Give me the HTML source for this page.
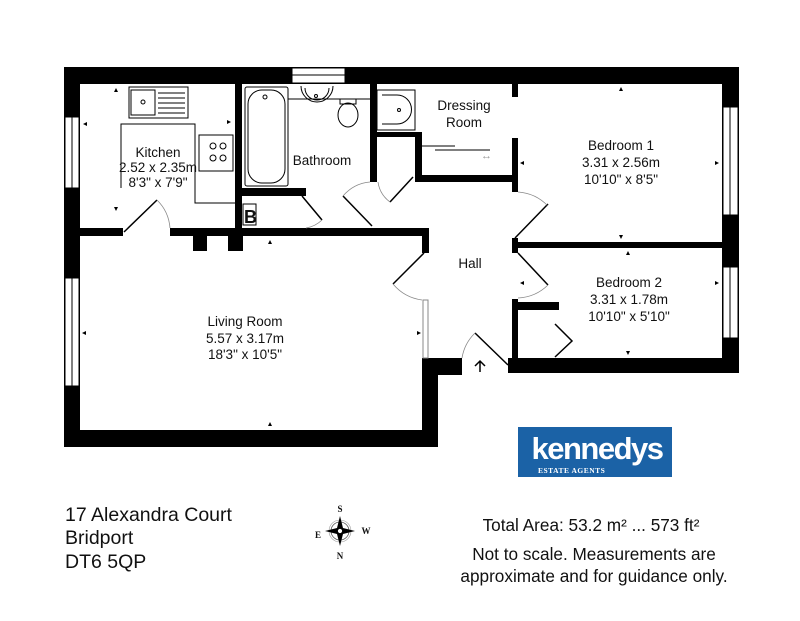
<!DOCTYPE html>
<html><head><meta charset="utf-8"><style>
html,body{margin:0;padding:0;background:#fff;width:800px;height:621px;overflow:hidden}
svg{display:block}
text{font-family:"Liberation Sans",sans-serif;fill:#111}
text.serif{font-family:"Liberation Serif",serif;font-weight:bold}
</style></head><body>
<svg width="800" height="621" viewBox="0 0 800 621" xmlns="http://www.w3.org/2000/svg">
<g fill="#000">
<rect x="64" y="67" width="675" height="17"/>
<rect x="64" y="67" width="16" height="380"/>
<rect x="722" y="67" width="17" height="306"/>
<rect x="64" y="430" width="374" height="17"/>
<rect x="422" y="358" width="16" height="89"/>
<rect x="422" y="358" width="40" height="17"/>
<rect x="508" y="358" width="231" height="15"/>
<rect x="512" y="299" width="6" height="74"/>
<rect x="512" y="302" width="47" height="8"/>
<rect x="512" y="242" width="210" height="6"/>
<rect x="512" y="238" width="6" height="15"/>
<rect x="512" y="84" width="6" height="13"/>
<rect x="512" y="138" width="6" height="54"/>
<rect x="415" y="175" width="103" height="7"/>
<rect x="415" y="132" width="7" height="50"/>
<rect x="370" y="132" width="50" height="5"/>
<rect x="370" y="84" width="7" height="98"/>
<rect x="235" y="84" width="7" height="144"/>
<rect x="242" y="188" width="64" height="8"/>
<rect x="64" y="228" width="59" height="8"/>
<rect x="170" y="228" width="259" height="8"/>
<rect x="422" y="228" width="7" height="25"/>
<rect x="193" y="236" width="14" height="15"/>
<rect x="228" y="236" width="15" height="15"/>
</g>
<g fill="#fff" stroke="#000" stroke-width="1">
<rect x="65" y="117" width="14" height="71"/><line x1="72" y1="117" x2="72" y2="188"/>
<rect x="65" y="278" width="14" height="108"/><line x1="72" y1="278" x2="72" y2="386"/>
<rect x="723" y="107" width="15" height="108"/><line x1="730" y1="107" x2="730" y2="215"/>
<rect x="723" y="267" width="15" height="71"/><line x1="730" y1="267" x2="730" y2="338"/>
<rect x="292" y="68" width="53" height="15"/><line x1="292" y1="75" x2="345" y2="75"/>
<rect x="423" y="300" width="5" height="58" stroke="#888"/>
</g>
<g fill="none" stroke="#000" stroke-width="1">
<rect x="129" y="87" width="59" height="31"/><rect x="131" y="90" width="24" height="25"/>
<circle cx="143" cy="102" r="2"/>
<line x1="158" y1="93" x2="185" y2="93"/><line x1="158" y1="98" x2="185" y2="98"/><line x1="158" y1="103" x2="185" y2="103"/><line x1="158" y1="108" x2="185" y2="108"/><line x1="158" y1="113" x2="185" y2="113"/>
<polyline points="121,188 121,124 195,124 195,203 235,203"/>
<rect x="199" y="135" width="34" height="36"/>
<circle cx="213" cy="146" r="3"/><circle cx="223" cy="146" r="3"/><circle cx="213" cy="158" r="3"/><circle cx="223" cy="158" r="3"/>
<rect x="245" y="87" width="43" height="99" rx="2"/><rect x="248" y="90" width="37" height="93" rx="14"/>
<circle cx="265" cy="97" r="2"/>
<line x1="288" y1="99" x2="370" y2="99"/>
<path d="M301,86 A16,16 0 0 0 333,86"/><path d="M305,88 A12,12 0 0 0 329,88"/><circle cx="316" cy="96" r="1.5"/>
<ellipse cx="348" cy="115" rx="10" ry="12"/><rect x="340" y="99" width="16" height="5"/>
<rect x="377" y="90" width="38" height="40"/>
<path d="M382,95 L397,95 A13,13 0 0 1 397,124 L382,124"/><circle cx="399" cy="110" r="1.5"/>
<rect x="243" y="204" width="13" height="21"/>
<line x1="422" y1="146" x2="455" y2="146"/><line x1="435" y1="150" x2="490" y2="150"/>
</g>
<text x="244" y="223" font-size="18" font-weight="bold">B</text>
<text x="481" y="159" font-size="11" style="fill:#999">↔</text>
<g fill="none" stroke="#000" stroke-width="1.5">
<line x1="124" y1="232" x2="157" y2="200"/>
<line x1="302" y1="196" x2="322" y2="220"/>
<line x1="343" y1="196" x2="372" y2="226"/>
<line x1="390" y1="202" x2="413" y2="177"/>
<line x1="515" y1="238" x2="548" y2="204"/>
<line x1="518" y1="253" x2="548" y2="285"/>
<line x1="393" y1="284" x2="424" y2="253"/>
<line x1="475" y1="333" x2="508" y2="365"/>
<polyline points="555,324 572,341 555,357"/>
</g>
<g fill="none" stroke="#888" stroke-width="0.8">
<path d="M157,200 A44,44 0 0 1 170,228"/>
<path d="M322,220 A30,30 0 0 1 306,228"/>
<path d="M343,196 A40,40 0 0 1 370,182"/>
<path d="M378,182 A30,30 0 0 0 390,202"/>
<path d="M518,192 A46,46 0 0 1 548,206"/>
<path d="M548,285 A46,46 0 0 1 518,298"/>
<path d="M393,284 A46,46 0 0 0 422,300"/>
<path d="M462,358 A45,45 0 0 1 475,333"/>
</g>
<path d="M480,362 L480,372 M475,366 L480,361 L485,366" stroke="#000" stroke-width="1.5" fill="none"/>
<g fill="#000">
<path d="M114,92 l4,0 l-2,-4z"/>
<path d="M114,207 l4,0 l-2,4z"/>
<path d="M83,124 l4,-2 l0,4z"/>
<path d="M231,122 l-4,-2 l0,4z"/>
<path d="M268,244 l4,0 l-2,-4z"/>
<path d="M268,426 l4,0 l-2,-4z"/>
<path d="M82,333 l4,-2 l0,4z"/>
<path d="M421,333 l-4,-2 l0,4z"/>
<path d="M619,91 l4,0 l-2,-4z"/>
<path d="M619,235 l4,0 l-2,4z"/>
<path d="M520,163 l4,-2 l0,4z"/>
<path d="M719,163 l-4,-2 l0,4z"/>
<path d="M626,255 l4,0 l-2,-4z"/>
<path d="M626,351 l4,0 l-2,4z"/>
<path d="M520,283 l4,-2 l0,4z"/>
<path d="M719,283 l-4,-2 l0,4z"/>
</g>
<g font-size="13.5" text-anchor="middle">
<text x="158" y="157">Kitchen</text><text x="158" y="172">2.52 x 2.35m</text><text x="158" y="187">8'3" x 7'9"</text>
<text x="322" y="165">Bathroom</text>
<text x="464" y="110">Dressing</text><text x="464" y="127">Room</text>
<text x="621" y="150">Bedroom 1</text><text x="621" y="167">3.31 x 2.56m</text><text x="621" y="184">10'10" x 8'5"</text>
<text x="470" y="268">Hall</text>
<text x="629" y="287">Bedroom 2</text><text x="629" y="304">3.31 x 1.78m</text><text x="629" y="321">10'10" x 5'10"</text>
<text x="245" y="326">Living Room</text><text x="245" y="343">5.57 x 3.17m</text><text x="245" y="359">18'3" x 10'5"</text>
</g>
<rect x="518" y="427" width="154" height="50" fill="#1b62a6"/>
<text x="597" y="459" font-size="31" font-weight="bold" text-anchor="middle" style="fill:#fff;letter-spacing:-1.5px">kennedys</text>
<text x="538" y="473" font-size="7.5" class="serif" style="fill:#fff;letter-spacing:0.5px">ESTATE AGENTS</text>
<g font-size="19.5">
<text x="65" y="521">17 Alexandra Court</text>
<text x="65" y="544">Bridport</text>
<text x="65" y="568">DT6 5QP</text>
</g>
<g transform="translate(340,531)">
<circle r="9" fill="none" stroke="#555" stroke-width="0.8"/>
<circle r="11" fill="none" stroke="#999" stroke-width="0.6"/>
<path d="M0,-15 L3,-3 L15,0 L3,3 L0,15 L-3,3 L-15,0 L-3,-3Z" fill="#000"/>
<circle r="2.5" fill="#fff" stroke="#000" stroke-width="0.8"/>
<g font-size="9" text-anchor="middle">
<text class="serif" x="0" y="-19">S</text><text class="serif" x="0" y="28">N</text><text class="serif" x="-22" y="7">E</text><text class="serif" x="26" y="3">W</text>
</g>
</g>
<g font-size="17.2" text-anchor="middle">
<text x="591" y="531">Total Area: 53.2 m² ... 573 ft²</text>
<text x="594" y="560">Not to scale. Measurements are</text>
<text x="594" y="582">approximate and for guidance only.</text>
</g>
</svg>
</body></html>
